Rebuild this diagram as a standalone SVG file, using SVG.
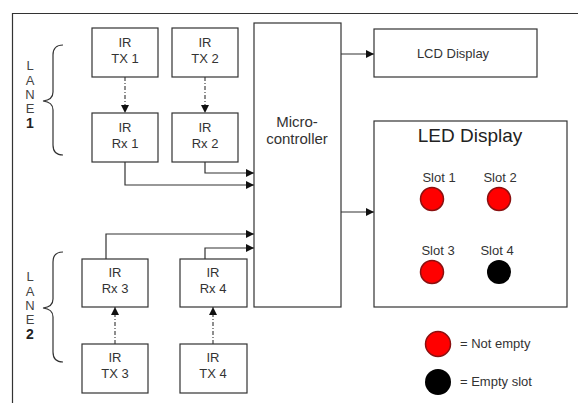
<svg xmlns="http://www.w3.org/2000/svg" width="578" height="403" viewBox="0 0 578 403">
<defs>
<style>
.box{fill:#fff;stroke:#333;stroke-width:1.2}
.ln{fill:none;stroke:#333;stroke-width:1.2}
.dash{fill:none;stroke:#444;stroke-width:1.2;stroke-dasharray:4 2 1 2}
.t{font-family:"Liberation Sans",Arial,sans-serif;font-size:13px;fill:#333;text-anchor:middle}
.lane{font-family:"Liberation Sans",Arial,sans-serif;font-size:13px;fill:#444;text-anchor:middle}
.red{fill:#f00;stroke:#8a1010;stroke-width:1.5}
.blk{fill:#000}
</style>
<marker id="ah" viewBox="0 0 10 10" refX="10" refY="5" markerWidth="8" markerHeight="8" markerUnits="userSpaceOnUse" orient="auto">
<path d="M0,0 L10,5 L0,10 z" fill="#111"/>
</marker>
</defs>
<rect width="578" height="403" fill="#fff"/>
<path class="ln" d="M12.5,403 V13.5 H578"/>

<g id="connectors">
<path class="dash" d="M125,77 V113" marker-end="url(#ah)"/>
<path class="dash" d="M205,77 V113" marker-end="url(#ah)"/>
<path class="dash" d="M115,344 V307" marker-end="url(#ah)"/>
<path class="dash" d="M213,344 V307" marker-end="url(#ah)"/>
<path class="ln" d="M125,162 V185 H254" marker-end="url(#ah)"/>
<path class="ln" d="M205,162 V173 H254" marker-end="url(#ah)"/>
<path class="ln" d="M106,259 V234 H254" marker-end="url(#ah)"/>
<path class="ln" d="M205,259 V248 H254" marker-end="url(#ah)"/>
<path class="ln" d="M341,54 H374" marker-end="url(#ah)"/>
<path class="ln" d="M341,212 H374" marker-end="url(#ah)"/>
</g>

<g id="lane1">
<path class="ln" d="M63,45 Q53,45 53,55 V92 Q53,100 43,101 Q53,102 53,110 V145 Q53,155 63,155"/>
<text class="lane" x="30" y="70">L</text>
<text class="lane" x="30" y="85">A</text>
<text class="lane" x="30" y="99">N</text>
<text class="lane" x="30" y="113">E</text>
<text class="lane" x="30" y="128" style="font-weight:bold;font-size:14px;fill:#222">1</text>
</g>
<g id="lane2">
<path class="ln" d="M63,252 Q53,252 53,262 V299 Q53,307 43,308 Q53,309 53,317 V352 Q53,362 63,362"/>
<text class="lane" x="30" y="281">L</text>
<text class="lane" x="30" y="296">A</text>
<text class="lane" x="30" y="310">N</text>
<text class="lane" x="30" y="324">E</text>
<text class="lane" x="30" y="339" style="font-weight:bold;font-size:14px;fill:#222">2</text>
</g>

<g id="tx1"><rect class="box" x="92" y="28" width="66" height="49"/><text class="t" x="125" y="47">IR</text><text class="t" x="125" y="63">TX 1</text></g>
<g id="tx2"><rect class="box" x="172" y="28" width="66" height="49"/><text class="t" x="205" y="47">IR</text><text class="t" x="205" y="63">TX 2</text></g>
<g id="rx1"><rect class="box" x="92" y="113" width="66" height="49"/><text class="t" x="125" y="132">IR</text><text class="t" x="125" y="148">Rx 1</text></g>
<g id="rx2"><rect class="box" x="172" y="113" width="66" height="49"/><text class="t" x="205" y="132">IR</text><text class="t" x="205" y="148">Rx 2</text></g>
<g id="rx3"><rect class="box" x="82" y="259" width="66" height="48"/><text class="t" x="115" y="277">IR</text><text class="t" x="115" y="293">Rx 3</text></g>
<g id="rx4"><rect class="box" x="180" y="259" width="67" height="48"/><text class="t" x="213" y="277">IR</text><text class="t" x="213" y="293">Rx 4</text></g>
<g id="tx3"><rect class="box" x="82" y="344" width="66" height="49"/><text class="t" x="115" y="362">IR</text><text class="t" x="115" y="378">TX 3</text></g>
<g id="tx4"><rect class="box" x="180" y="344" width="67" height="49"/><text class="t" x="213" y="362">IR</text><text class="t" x="213" y="378">TX 4</text></g>

<g id="micro"><rect class="box" x="254" y="23" width="87" height="284"/><text class="t" x="297" y="127" style="font-size:15px">Micro-</text><text class="t" x="297" y="144" style="font-size:15px">controller</text></g>

<g id="lcd"><rect class="box" x="374" y="29" width="163" height="48"/><text class="t" x="453" y="58">LCD Display</text></g>

<g id="led">
<rect class="box" x="374" y="121" width="193" height="186"/>
<text class="t" x="470" y="142" style="font-size:19px;fill:#222">LED Display</text>
<text class="t" x="439" y="182">Slot 1</text>
<text class="t" x="500" y="182">Slot 2</text>
<text class="t" x="438" y="255">Slot 3</text>
<text class="t" x="497" y="255">Slot 4</text>
<circle class="red" cx="432" cy="199" r="11.5"/>
<circle class="red" cx="499" cy="199" r="11.5"/>
<circle class="red" cx="432" cy="272" r="11.5"/>
<circle class="blk" cx="499" cy="272" r="12"/>
</g>

<g id="legend">
<circle class="red" cx="438" cy="344" r="12.5"/>
<circle class="blk" cx="438" cy="382" r="13"/>
<text class="t" x="460" y="348" style="text-anchor:start">= Not empty</text>
<text class="t" x="460" y="386" style="text-anchor:start">= Empty slot</text>
</g>
</svg>
